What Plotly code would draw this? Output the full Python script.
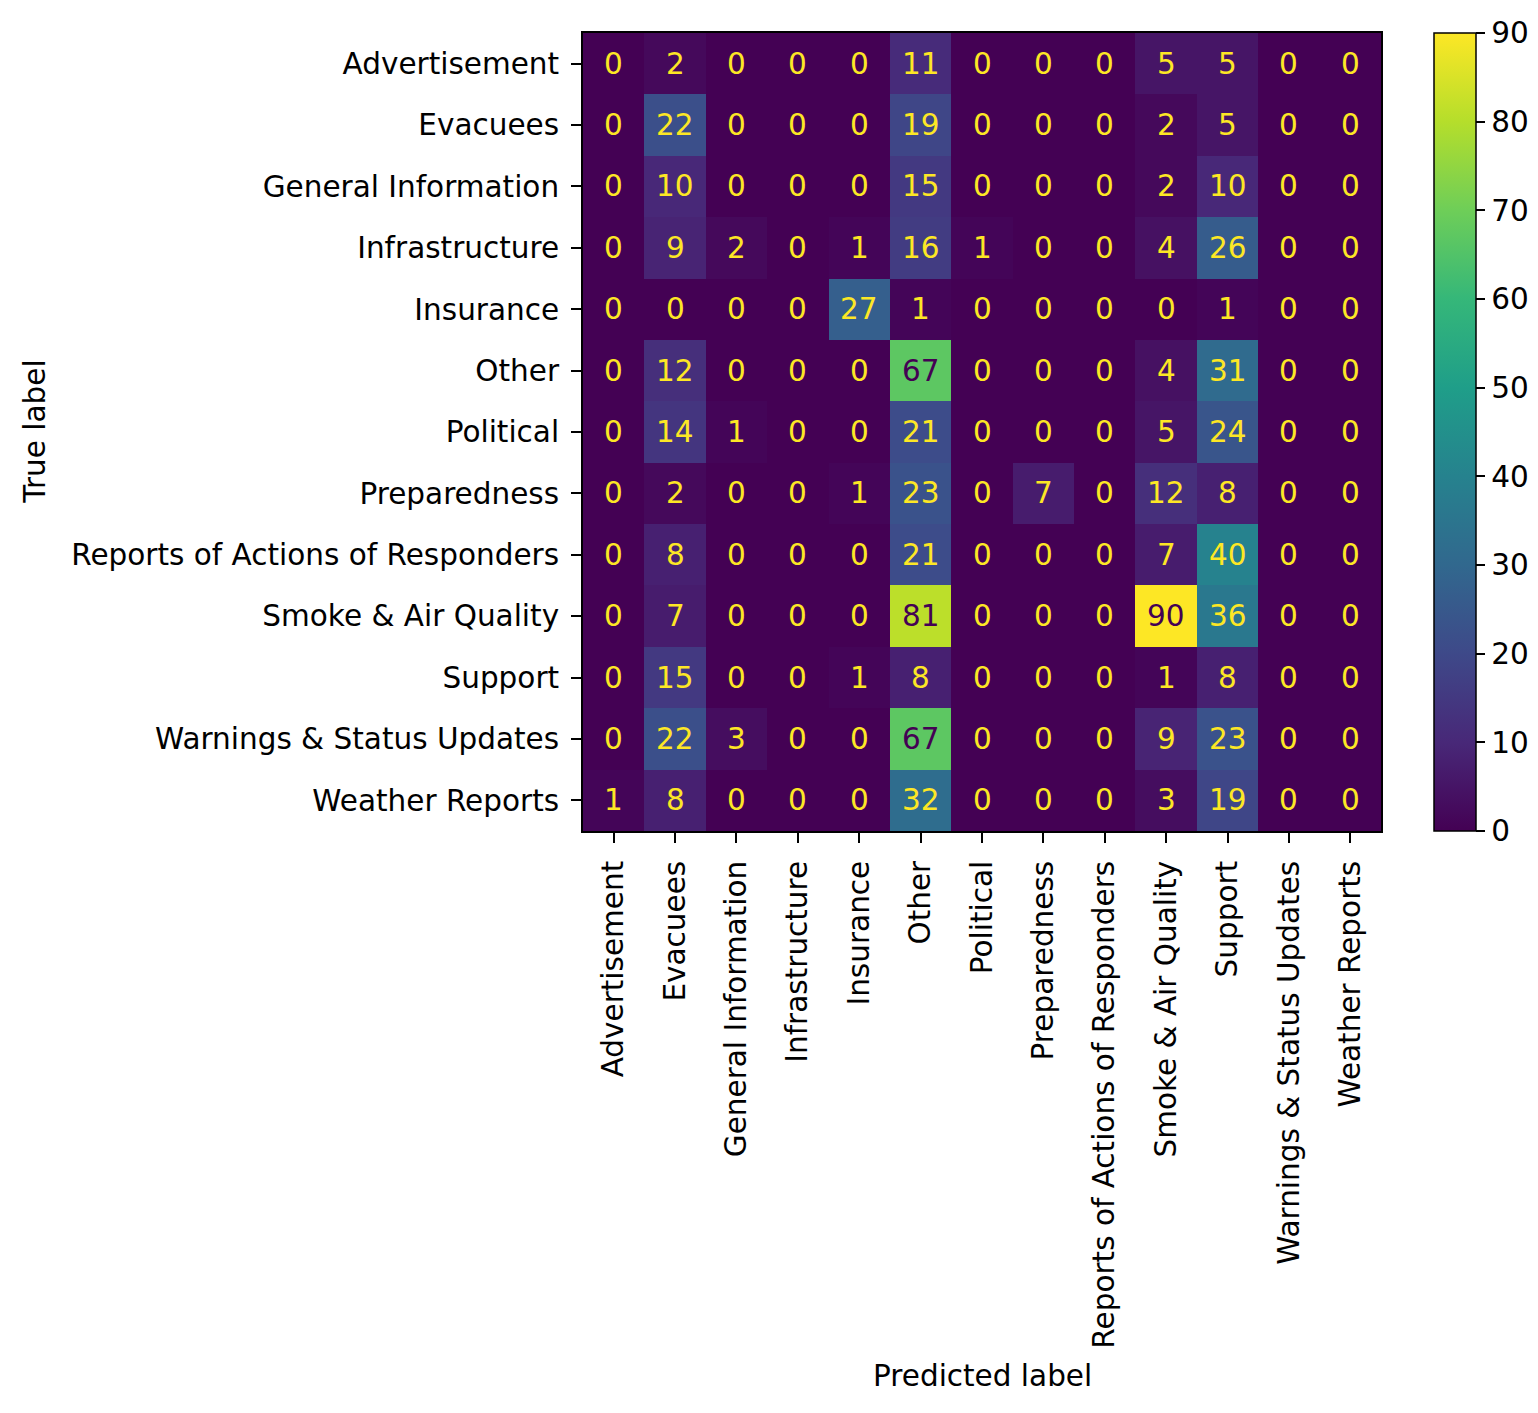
import plotly.graph_objects as go

labels = ["Advertisement", "Evacuees", "General Information", "Infrastructure",
          "Insurance", "Other", "Political", "Preparedness",
          "Reports of Actions of Responders", "Smoke & Air Quality", "Support",
          "Warnings & Status Updates", "Weather Reports"]

matrix = [
    [0, 2, 0, 0, 0, 11, 0, 0, 0, 5, 5, 0, 0],
    [0, 22, 0, 0, 0, 19, 0, 0, 0, 2, 5, 0, 0],
    [0, 10, 0, 0, 0, 15, 0, 0, 0, 2, 10, 0, 0],
    [0, 9, 2, 0, 1, 16, 1, 0, 0, 4, 26, 0, 0],
    [0, 0, 0, 0, 27, 1, 0, 0, 0, 0, 1, 0, 0],
    [0, 12, 0, 0, 0, 67, 0, 0, 0, 4, 31, 0, 0],
    [0, 14, 1, 0, 0, 21, 0, 0, 0, 5, 24, 0, 0],
    [0, 2, 0, 0, 1, 23, 0, 7, 0, 12, 8, 0, 0],
    [0, 8, 0, 0, 0, 21, 0, 0, 0, 7, 40, 0, 0],
    [0, 7, 0, 0, 0, 81, 0, 0, 0, 90, 36, 0, 0],
    [0, 15, 0, 0, 1, 8, 0, 0, 0, 1, 8, 0, 0],
    [0, 22, 3, 0, 0, 67, 0, 0, 0, 9, 23, 0, 0],
    [1, 8, 0, 0, 0, 32, 0, 0, 0, 3, 19, 0, 0],
]

colorbar_ticks = list(range(0, 91, 10))

FONT = "DejaVu Sans"
FS = 29.5
vmax = max(max(r) for r in matrix)
vmin = min(min(r) for r in matrix)
thresh = (vmax + vmin) / 2.0

fig = go.Figure()
fig.add_trace(go.Heatmap(
    z=matrix, x=labels, y=labels,
    colorscale="Viridis", zmin=0, zmax=90,
    showscale=True,
    colorbar=dict(
        x=1.0664, xanchor="left", xref="paper", xpad=0, ypad=0,
        y=0.5, yanchor="middle", len=1.0, lenmode="fraction",
        thickness=42, thicknessmode="pixels",
        outlinecolor="black", outlinewidth=1.5,
        tickvals=colorbar_ticks,
        ticks="outside", ticklen=9, tickcolor="black", tickwidth=1.5,
        tickfont=dict(family=FONT, size=FS, color="black"),
    ),
    hoverinfo="skip",
))

annotations = []
for i, row in enumerate(matrix):
    for j, v in enumerate(row):
        annotations.append(dict(
            x=labels[j], y=labels[i], xref="x", yref="y",
            text=str(v), showarrow=False,
            font=dict(family=FONT, size=FS,
                      color="#440154" if v > thresh else "#fde725"),
        ))

annotations.append(dict(
    x=-0.687, y=0.5, xref="paper", yref="paper", text="True label",
    textangle=-90, showarrow=False, xanchor="center", yanchor="middle",
    font=dict(family=FONT, size=FS, color="black"),
))
annotations.append(dict(
    x=0.5, y=-0.683, xref="paper", yref="paper", text="Predicted label",
    showarrow=False, xanchor="center", yanchor="middle",
    font=dict(family=FONT, size=FS, color="black"),
))

fig.update_layout(
    width=1530, height=1405,
    margin=dict(l=575, r=157, t=25, b=582, autoexpand=False),
    paper_bgcolor="white", plot_bgcolor="white",
    annotations=annotations,
    xaxis=dict(
        tickangle=-90, ticks="outside", ticklen=10, tickcolor="black", tickwidth=1.5,
        ticklabelstandoff=6,
        tickfont=dict(family=FONT, size=FS, color="black"),
        showline=True, linecolor="black", linewidth=2, mirror=True,
        showgrid=False, zeroline=False, automargin=False,
    ),
    yaxis=dict(
        autorange="reversed", ticks="outside", ticklen=10, tickcolor="black", tickwidth=1.5,
        ticklabelstandoff=6,
        tickfont=dict(family=FONT, size=FS, color="black"),
        showline=True, linecolor="black", linewidth=2, mirror=True,
        showgrid=False, zeroline=False, automargin=False,
    ),
)

fig.write_html("out.html")
